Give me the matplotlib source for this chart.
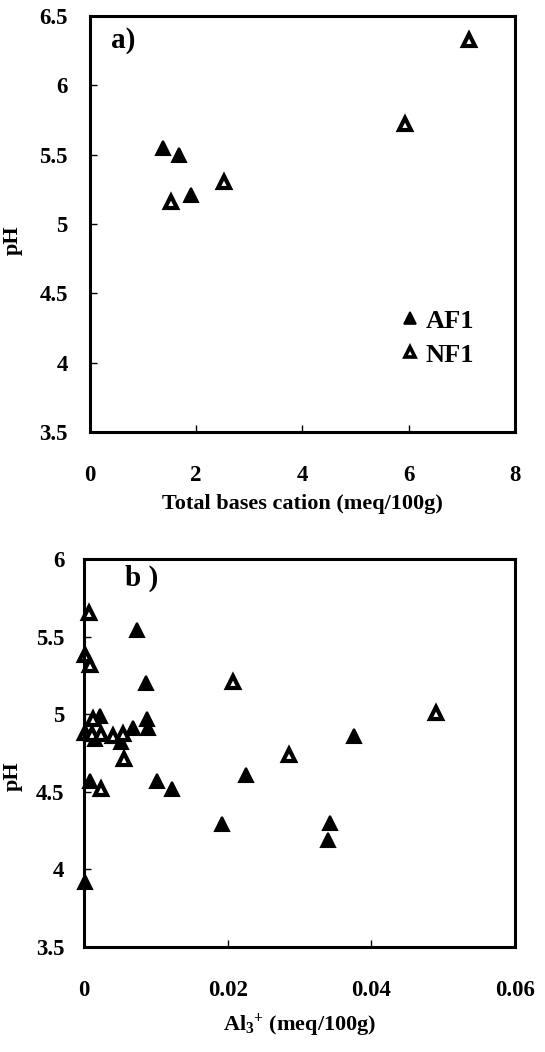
import matplotlib
matplotlib.use('Agg')
from matplotlib import pyplot as plt
from matplotlib.lines import Line2D

plt.rcParams['font.family'] = ['Liberation Serif', 'DejaVu Serif']
plt.rcParams['font.weight'] = 'bold'
plt.rcParams['mathtext.fontset'] = 'custom'
plt.rcParams['mathtext.rm'] = 'Liberation Serif:bold'
plt.rcParams['mathtext.it'] = 'Liberation Serif:bold'
plt.rcParams['mathtext.bf'] = 'Liberation Serif:bold'
plt.rcParams['mathtext.default'] = 'rm'

# a) total bases cation vs pH
af1_bases = [1.37, 1.68, 1.91]
af1_ph_a = [5.55, 5.50, 5.21]
nf1_bases = [1.53, 2.52, 5.93, 7.14]
nf1_ph_a = [5.16, 5.30, 5.72, 6.33]

# b) Al3+ vs pH
af1_al = [0.0074, 0.0087, 0.0022, 0.0088, 0.0089, 0.0068, 0.0015, 0.0052,
          0.0009, 0.0102, 0.0122, 0.0226, 0.0192, 0.0001, 0.0376, 0.0343, 0.0340]
af1_ph_b = [5.54, 5.20, 4.99, 4.97, 4.91, 4.91, 4.84, 4.82,
            4.57, 4.57, 4.52, 4.61, 4.29, 3.92, 4.86, 4.30, 4.19]
nf1_al = [0.00065, 0.0002, 0.0009, 0.0207, 0.00125, 0.0001, 0.0011, 0.0024,
          0.0041, 0.0055, 0.0056, 0.0286, 0.0024, 0.0490]
nf1_ph_b = [5.65, 5.38, 5.32, 5.21, 4.97, 4.88, 4.87, 4.87,
            4.86, 4.87, 4.71, 4.74, 4.52, 5.01]

fs = 16.5
filled = dict(marker='^', ls='none', ms=10, mfc='k', mec='k', mew=1.5)
hollow = dict(marker='^', ls='none', ms=9, mfc='w', mec='k', mew=3)

fig = plt.figure(figsize=(5.45, 10.52), dpi=100)
ax1 = fig.add_axes([0.1651, 0.5894, 0.7798, 0.3954])
ax2 = fig.add_axes([0.1541, 0.0998, 0.7908, 0.3688])

ax1.plot(af1_bases, af1_ph_a, **filled)
ax1.plot(nf1_bases, nf1_ph_a, **hollow)
ax1.set_xlim(0, 8)
ax1.set_ylim(3.5, 6.5)
ax1.set_xticks([0, 2, 4, 6, 8])
ax1.set_yticks([3.5, 4, 4.5, 5, 5.5, 6, 6.5])
ax1.set_yticklabels(['3.5', '4', '4.5', '5', '5.5', '6', '6.5'])
ax1.set_xlabel('Total bases cation (meq/100g)', fontsize=16, fontweight='bold')
ax1.xaxis.set_label_coords(0.5, -0.15)
ax1.set_ylabel('pH', fontsize=16, fontweight='bold')
ax1.yaxis.set_label_coords(-0.158, 0.46)
ax1.text(0.05, 0.94, 'a)', transform=ax1.transAxes, fontsize=21,
         fontweight='bold', va='center')
ax1.tick_params(axis='x', pad=24)
ax1.tick_params(axis='y', pad=16)

handles = [Line2D([], [], marker='^', ls='none', ms=8, mfc='k', mec='k', mew=1.2),
           Line2D([], [], marker='^', ls='none', ms=7, mfc='w', mec='k', mew=2.6)]
ax1.legend(handles, ['AF1', 'NF1'], loc='lower right', bbox_to_anchor=(0.96, 0.1),
           frameon=False, handlelength=0.6, handletextpad=0.3,
           labelspacing=0.4, prop={'weight': 'bold', 'size': 19})

ax2.plot(af1_al, af1_ph_b, **filled, clip_on=False)
ax2.plot(nf1_al, nf1_ph_b, **hollow, clip_on=False)
ax2.set_xlim(0, 0.06)
ax2.set_ylim(3.5, 6)
ax2.set_xticks([0, 0.02, 0.04, 0.06])
ax2.set_xticklabels(['0', '0.02', '0.04', '0.06'])
ax2.set_yticks([3.5, 4, 4.5, 5, 5.5, 6])
ax2.set_yticklabels(['3.5', '4', '4.5', '5', '5.5', '6'])
ax2.set_xlabel(r'Al$_{3}{}^{+}$ (meq/100g)', fontsize=16, fontweight='bold')
ax2.xaxis.set_label_coords(0.5, -0.165)
ax2.set_ylabel('pH', fontsize=16, fontweight='bold')
ax2.yaxis.set_label_coords(-0.142, 0.44)
ax2.text(0.095, 0.95, 'b )', transform=ax2.transAxes, fontsize=21,
         fontweight='bold', va='center')
ax2.tick_params(axis='x', pad=24)
ax2.tick_params(axis='y', pad=14)

for ax in (ax1, ax2):
    for s in ax.spines.values():
        s.set_linewidth(2.2)
    ax.tick_params(direction='in', length=5, width=1, labelsize=fs)
    for lab in ax.get_xticklabels() + ax.get_yticklabels():
        lab.set_fontweight('bold')

plt.savefig('out.png', dpi=100)
